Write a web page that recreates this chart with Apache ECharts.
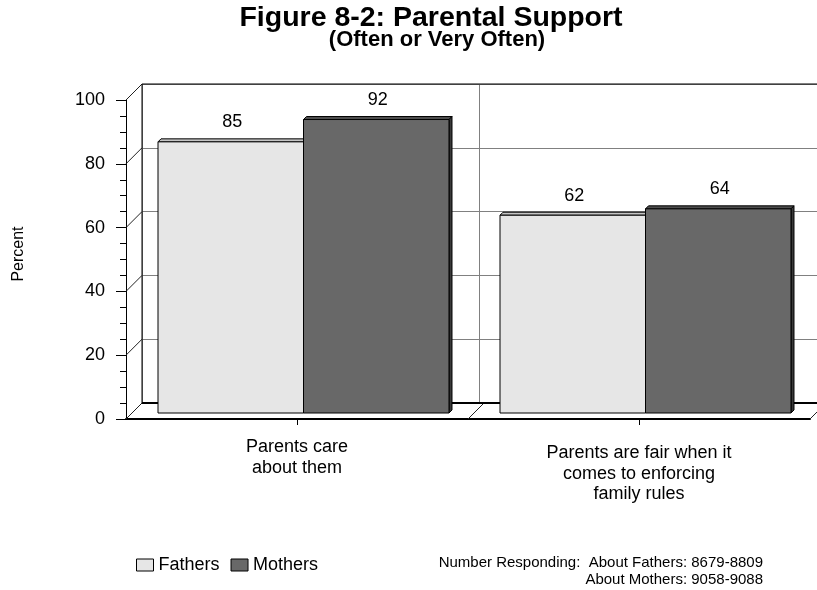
<!DOCTYPE html>
<html>
<head>
<meta charset="utf-8">
<script src="https://cdn.jsdelivr.net/npm/echarts@6/dist/echarts.min.js"></script>
<style>html,body{margin:0;padding:0;background:#fff;}#c{width:817px;height:590px;}</style>
</head>
<body>
<div id="c"></div>
<script>
// ---- data ----
const categories = ['Parents care\nabout them', 'Parents are fair when it\ncomes to enforcing\nfamily rules'];
const fathers = [85, 62];
const mothers = [92, 64];
const yTicks = [0, 20, 40, 60, 80, 100];
const seriesNames = ['Fathers', 'Mothers'];
const titleText = 'Figure 8-2: Parental Support';
const subtitleText = '(Often or Very Often)';
const yAxisTitle = 'Percent';
const noteLine1 = 'Number Responding:  About Fathers: 8679-8809';
const noteLine2 = 'About Mothers: 9058-9088';

// ---- style ----
const FONT = 'Arial, "Liberation Sans", sans-serif';
const DEPTH = 16;      // wall depth offset
const BEVEL = 3;       // bar 3D depth
const BAR_FRAC = 0.4254;
const colors = {
  Fathers: { face: '#e6e6e6', top: '#c4c4c4', side: '#a8a8a8' },
  Mothers: { face: '#686868', top: '#4e4e4e', side: '#3a3a3a' }
};

const chart = echarts.init(document.getElementById('c'), null, { renderer: 'canvas' });

function frameRender(params, api) {
  const cs = params.coordSys;
  const y0 = api.coord([0, yTicks[0]])[1];
  const yTop = api.coord([0, yTicks[yTicks.length - 1]])[1];
  const children = [];
  const ln = (x1, y1, x2, y2, w, c) => children.push({
    type: 'line', shape: { x1, y1, x2, y2 }, style: { stroke: c || '#000', lineWidth: w || 1 }
  });
  yTicks.forEach(v => {
    const y = api.coord([0, v])[1];
    ln(cs.x, y, cs.x + DEPTH, y - DEPTH, 1, '#222');
  });
  const n = categories.length;
  for (let i = 1; i <= n; i++) {
    const x = cs.x + i * cs.width / n;
    ln(x, y0, x + DEPTH, y0 - DEPTH, 1, '#222');
  }
  ln(cs.x + DEPTH, y0 - DEPTH, cs.x + cs.width + DEPTH, y0 - DEPTH, 2, '#000');
  ln(cs.x + DEPTH, yTop - DEPTH, cs.x + cs.width + DEPTH, yTop - DEPTH, 1, '#000');
  ln(cs.x + DEPTH, y0 - DEPTH, cs.x + DEPTH, yTop - DEPTH, 1, '#000');
  return { type: 'group', children };
}

function makeBarRender(sIdx) {
  const name = seriesNames[sIdx];
  const col = colors[name];
  return function (params, api) {
    const ci = api.value(0);
    const v = api.value(1);
    const top = api.coord([ci, v]);
    const base = api.coord([ci, 0]);
    const band = api.size([1, 0])[0];
    const bw = band * BAR_FRAC;
    const x = top[0] - bw + sIdx * bw;
    const yT = top[1], yB = base[1];
    const d = BEVEL;
    const children = [
      { type: 'polygon', shape: { points: [[x, yT], [x + d, yT - d], [x + bw + d, yT - d], [x + bw, yT]] },
        style: { fill: col.top, stroke: '#000', lineWidth: 1 } },
      { type: 'polygon', shape: { points: [[x + bw, yT], [x + bw + d, yT - d], [x + bw + d, yB - d], [x + bw, yB]] },
        style: { fill: col.side, stroke: '#000', lineWidth: 1 } },
      { type: 'rect', shape: { x: x, y: yT, width: bw, height: yB - yT },
        style: { fill: col.face, stroke: '#000', lineWidth: 1 } },
      { type: 'text', style: { text: String(v), x: x + bw / 2 + d / 2, y: yT - 19.5,
        align: 'center', verticalAlign: 'middle', textAlign: 'center', textVerticalAlign: 'middle',
        font: '18px ' + FONT, fill: '#000' } }
    ];
    return { type: 'group', children };
  };
}

const catAxisData = categories.map((c, i) => i === 0 ? c : { value: c, textStyle: { padding: [6, 0, 0, 0] } });

const option = {
  backgroundColor: '#fff',
  animation: false,
  grid: [
    { left: 126, top: 100, width: 684, height: 319 },   // front
    { left: 142, top: 84, width: 684, height: 319 },    // back wall
    { left: 132.5, top: 94, width: 684, height: 319 }   // bars
  ],
  xAxis: [
    { type: 'category', gridIndex: 0, data: catAxisData, boundaryGap: true,
      axisLine: { show: true, lineStyle: { color: '#000', width: 2 } },
      axisTick: { show: true, alignWithLabel: true, length: 6, lineStyle: { color: '#000' } },
      axisLabel: { interval: 0, margin: 18, color: '#000', fontSize: 18, fontFamily: FONT, lineHeight: 20.5, align: 'center' },
      splitLine: { show: false } },
    { type: 'category', gridIndex: 1, data: categories, boundaryGap: true,
      axisLine: { show: false }, axisTick: { show: false }, axisLabel: { show: false },
      splitLine: { show: true, interval: 0, lineStyle: { color: '#808080', width: 1 } } },
    { type: 'category', gridIndex: 2, data: categories, boundaryGap: true, show: false }
  ],
  yAxis: [
    { type: 'value', gridIndex: 0, min: 0, max: 100, interval: 20,
      axisLine: { show: true, lineStyle: { color: '#000', width: 1 } },
      axisTick: { show: true, length: 10, lineStyle: { color: '#000' } },
      minorTick: { show: true, splitNumber: 4, length: 6, lineStyle: { color: '#000' } },
      axisLabel: { color: '#000', fontSize: 18, fontFamily: FONT, margin: 21 },
      splitLine: { show: false } },
    { type: 'value', gridIndex: 1, min: 0, max: 100, interval: 20,
      axisLine: { show: false }, axisTick: { show: false }, axisLabel: { show: false },
      splitLine: { show: true, lineStyle: { color: '#808080', width: 1 } } },
    { type: 'value', gridIndex: 2, min: 0, max: 100, interval: 20, show: false, splitLine: { show: false } }
  ],
  legend: {
    left: 136, top: 556, padding: 0, itemGap: 11, itemWidth: 17, itemHeight: 12, icon: 'rect',
    textStyle: { fontSize: 18, color: '#000', fontFamily: FONT },
    data: seriesNames.map(n => ({ name: n, icon: 'rect',
      itemStyle: { color: colors[n].face, borderColor: '#000', borderWidth: 1 } }))
  },
  series: [
    { type: 'custom', name: 'frame', xAxisIndex: 0, yAxisIndex: 0, silent: true, z: 1,
      data: [[0, 0]], renderItem: frameRender },
    { type: 'custom', name: seriesNames[0], xAxisIndex: 2, yAxisIndex: 2, z: 3,
      itemStyle: { color: colors.Fathers.face, borderColor: '#000' },
      encode: { x: 0, y: 1 },
      data: fathers.map((v, i) => [i, v]), renderItem: makeBarRender(0) },
    { type: 'custom', name: seriesNames[1], xAxisIndex: 2, yAxisIndex: 2, z: 3,
      itemStyle: { color: colors.Mothers.face, borderColor: '#000' },
      encode: { x: 0, y: 1 },
      data: mothers.map((v, i) => [i, v]), renderItem: makeBarRender(1) }
  ],
  graphic: [
    { type: 'text', x: 431, y: 18, style: { text: titleText, font: 'bold 28.5px ' + FONT, fill: '#000',
      align: 'center', verticalAlign: 'middle', textAlign: 'center', textVerticalAlign: 'middle' } },
    { type: 'text', x: 437, y: 39.5, style: { text: subtitleText, font: 'bold 22px ' + FONT, fill: '#000',
      align: 'center', verticalAlign: 'middle', textAlign: 'center', textVerticalAlign: 'middle' } },
    { type: 'text', x: 19, y: 254, rotation: Math.PI / 2, style: { text: yAxisTitle, font: '16px ' + FONT, fill: '#000',
      align: 'center', verticalAlign: 'middle', textAlign: 'center', textVerticalAlign: 'middle' } },
    { type: 'text', x: 763, y: 563, style: { text: noteLine1, font: '15px ' + FONT, fill: '#000',
      align: 'right', verticalAlign: 'middle', textAlign: 'right', textVerticalAlign: 'middle' } },
    { type: 'text', x: 763, y: 580, style: { text: noteLine2, font: '15px ' + FONT, fill: '#000',
      align: 'right', verticalAlign: 'middle', textAlign: 'right', textVerticalAlign: 'middle' } }
  ]
};
chart.setOption(option);
</script>
</body>
</html>
